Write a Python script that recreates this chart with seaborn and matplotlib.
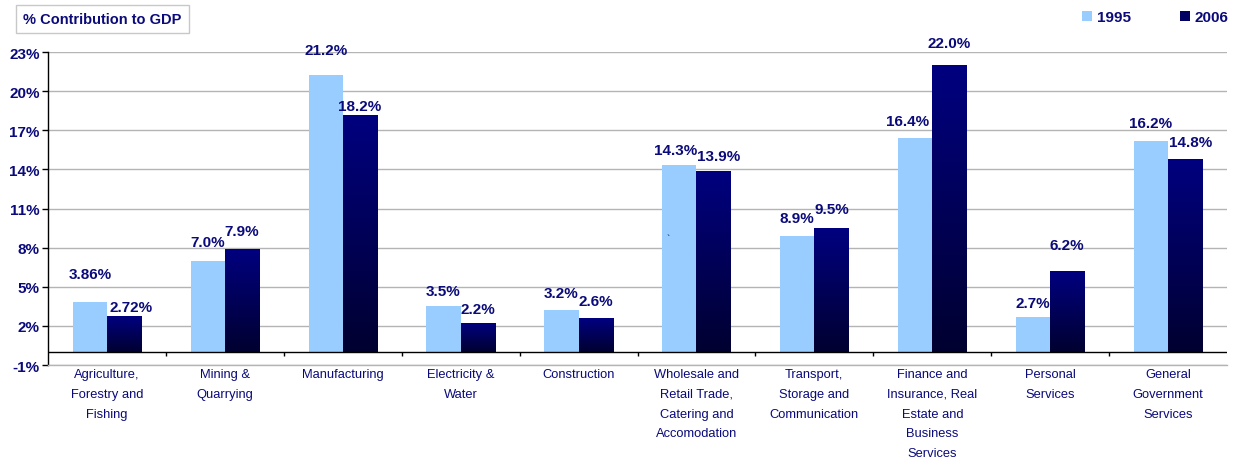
import numpy as np
import pandas as pd
import matplotlib
matplotlib.use("Agg")
import matplotlib.pyplot as plt
from matplotlib.patches import Patch
import seaborn as sns

# Sector shares of GDP, 1995 vs 2006
sectors = [
    "Agriculture,\nForestry and\nFishing",
    "Mining &\nQuarrying",
    "Manufacturing",
    "Electricity &\nWater",
    "Construction",
    "Wholesale and\nRetail Trade,\nCatering and\nAccomodation",
    "Transport,\nStorage and\nCommunication",
    "Finance and\nInsurance, Real\nEstate and\nBusiness\nServices",
    "Personal\nServices",
    "General\nGovernment\nServices",
]
share_1995 = [3.86, 7.0, 21.2, 3.5, 3.2, 14.3, 8.9, 16.4, 2.7, 16.2]
share_2006 = [2.72, 7.9, 18.2, 2.2, 2.6, 13.9, 9.5, 22.0, 6.2, 14.8]
labels_1995 = ["3.86%", "7.0%", "21.2%", "3.5%", "3.2%", "14.3%", "8.9%", "16.4%", "2.7%", "16.2%"]
labels_2006 = ["2.72%", "7.9%", "18.2%", "2.2%", "2.6%", "13.9%", "9.5%", "22.0%", "6.2%", "14.8%"]
years = ["1995", "2006"]
yticks = [-1, 2, 5, 8, 11, 14, 17, 20, 23]

# Label placement relative to each bar top (pixels): vertical gap and sideways nudge
gap_1995 = [28, 19, 25, 15, 17, 15, 18, 17, 14, 18]
gap_2006 = [9, 18, 9, 14, 17, 15, 19, 22, 26, 17]
nudge_1995 = [0, 0, 0, 0, 0, -4, 0, -8, 0, 0]
nudge_2006 = [7, 0, 0, 0, 0, 5, 0, 0, 0, 5]

NAVY = "#0a0a7a"
LIGHT = "#99ccff"
GRID = "#b4b4b4"

df = pd.DataFrame({
    "sector": sectors * 2,
    "share": share_1995 + share_2006,
    "year": [years[0]] * len(sectors) + [years[1]] * len(sectors),
})

sns.set_theme(style="white")
plt.rcParams["font.family"] = ["Liberation Sans", "DejaVu Sans"]

fig = plt.figure(figsize=(12.33, 4.64), dpi=100)
W, H = 1233, 464
ax = fig.add_axes([48 / W, 1 - 366 / H, (1227 - 48) / W, (366 - 53) / H])

sns.barplot(data=df, x="sector", y="share", hue="year",
            palette=[LIGHT, "#000080"], width=0.58, dodge=True,
            saturation=1, errorbar=None, legend=False, ax=ax, zorder=3)

ax.set_xlim(-0.5, len(sectors) - 0.5)
ax.set_ylim(-1, 23)

# Gradient fill (navy at the top fading to near-black) for the 2006 bars
grad = np.linspace(0, 1, 256).reshape(-1, 1)
cmap = matplotlib.colors.LinearSegmentedColormap.from_list(
    "navy_fade", ["#000080", "#000030"])
for patch in ax.containers[1]:
    x0, y0 = patch.get_x(), patch.get_y()
    w, h = patch.get_width(), patch.get_height()
    im = ax.imshow(grad, extent=[x0, x0 + w, y0, y0 + h], cmap=cmap,
                   aspect="auto", origin="upper", zorder=3)
    im.set_clip_path(patch)
    patch.set_facecolor("none")
    patch.set_edgecolor("none")
for patch in ax.containers[0]:
    patch.set_edgecolor("none")

ax.set_xlim(-0.5, len(sectors) - 0.5)
ax.set_ylim(-1, 23)

# Grid, spines and axis styling
ax.set_yticks(yticks)
ax.set_yticklabels([f"{t}%" for t in yticks], fontsize=11, fontweight="bold", color=NAVY)
ax.yaxis.grid(True, color=GRID, linewidth=1.0, zorder=0)
ax.set_axisbelow(True)
for side in ["top", "right"]:
    ax.spines[side].set_visible(False)
ax.spines["left"].set_color("black")
ax.spines["left"].set_linewidth(1.0)
ax.spines["bottom"].set_color(GRID)
ax.spines["bottom"].set_linewidth(1.0)
ax.tick_params(axis="y", which="major", left=True, length=4, width=1,
               color="black", pad=2, direction="out")
ax.tick_params(axis="x", bottom=False, labelbottom=False)
ax.set_xlabel("")
ax.set_ylabel("")

# Zero line with category divider ticks
ax.axhline(0, color="black", linewidth=1.0, zorder=4)
bounds = np.arange(len(sectors) - 1) + 0.5
ax.vlines(bounds, -0.32, 0, color="black", linewidth=1.0, zorder=4)

# Category labels under the axis
for i, name in enumerate(sectors):
    ax.text(i, -1.25, name, ha="center", va="top", fontsize=9.3, color=NAVY,
            linespacing=1.85, transform=ax.transData)

# Value labels
px2pt = 0.72
for i in range(len(sectors)):
    ax.annotate(labels_1995[i], (i - 0.145, share_1995[i]),
                xytext=(nudge_1995[i] * px2pt, gap_1995[i] * px2pt),
                textcoords="offset points",
                ha="center", va="center", fontsize=11, fontweight="bold",
                color=NAVY, zorder=5)
    ax.annotate(labels_2006[i], (i + 0.145, share_2006[i]),
                xytext=(nudge_2006[i] * px2pt, gap_2006[i] * px2pt),
                textcoords="offset points",
                ha="center", va="center", fontsize=11, fontweight="bold",
                color=NAVY, zorder=5)

# Small stray tick mark inside the wholesale bar
ax.text(4.76, 8.67, "`", fontsize=7, color=NAVY, ha="center", va="center", zorder=5)

# Title box
fig.text(23 / W, 1 - 20 / H, "% Contribution to GDP", fontsize=10.5,
         fontweight="bold", color=NAVY, ha="left", va="center",
         bbox=dict(boxstyle="square,pad=0.5", facecolor="white",
                   edgecolor="#c8c8c8", linewidth=1.0))

# Legend
handles = [Patch(facecolor=LIGHT, edgecolor="none"),
           Patch(facecolor="#000060", edgecolor="none")]
leg = fig.legend(handles, years, loc="center right",
                 bbox_to_anchor=(1228 / W, 1 - 18 / H), ncol=2, frameon=False,
                 handlelength=0.65, handleheight=0.65, handletextpad=0.3,
                 columnspacing=3.2, borderaxespad=0, borderpad=0,
                 prop={"family": "Liberation Sans", "weight": "bold", "size": 11})
for t in leg.get_texts():
    t.set_color(NAVY)

fig.savefig("out.png", dpi=100, facecolor="white")
